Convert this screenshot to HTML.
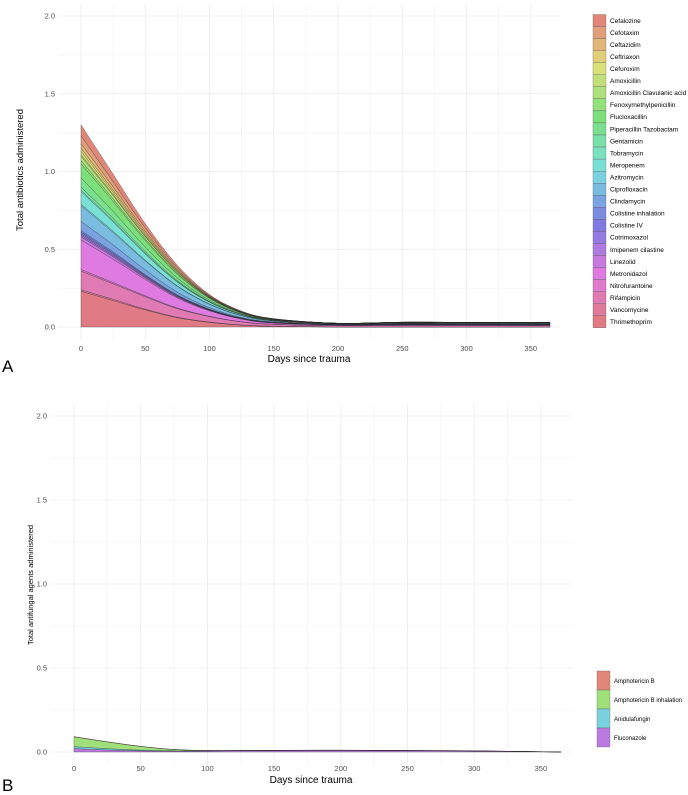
<!DOCTYPE html>
<html><head><meta charset="utf-8"><style>
body{margin:0;background:#fff;}
svg{display:block;font-family:"Liberation Sans",sans-serif;}
</style></head><body>
<svg id="chart" width="688" height="795" viewBox="0 0 688 795" xmlns="http://www.w3.org/2000/svg">
<g id="pa"></g>
<g id="pb"></g>
</svg>
<script>
const days = [0,25,50,75,100,125,150,200,250,300,365];
const xTicks = [0,50,100,150,200,250,300,350];
const yTicks = [0,0.5,1,1.5,2];
const yTickLabels = ["0.0","0.5","1.0","1.5","2.0"];
const abNames = ["Cefalozine","Cefotaxim","Ceftazidim","Ceftriaxon","Cefuroxim","Amoxicillin","Amoxicillin Clavulanic acid","Fenoxymethylpenicillin","Flucloxacillin","Piperacillin Tazobactam","Gentamicin","Tobramycin","Meropenem","Azitromycin","Ciprofloxacin","Clindamycin","Colistine inhalation","Colistine IV","Cotrimoxazol","Imipenem cilastine","Linezolid","Metronidazol","Nitrofurantoine","Rifampicin","Vancomycine","Thrimethoprim"];
const abValues = [
[.07,.048,.028,.014,.006,.002,.001,0,0,0,0],
[.05,.034,.02,.01,.004,.002,.001,0,0,0,0],
[.03,.021,.013,.007,.003,.001,.001,0,0,0,0],
[.02,.014,.009,.005,.002,.001,.001,0,.001,.001,.001],
[.02,.014,.009,.005,.002,.001,0,0,0,0,0],
[.01,.007,.005,.003,.001,.001,0,0,0,0,0],
[.03,.022,.014,.008,.004,.002,.001,0,.001,.001,.001],
[.02,.015,.01,.006,.003,.001,.001,0,0,0,0],
[.09,.065,.042,.024,.012,.005,.002,.001,.002,.002,.002],
[.06,.045,.03,.017,.008,.004,.002,.001,.001,.001,.001],
[.02,.015,.01,.006,.003,.001,.001,0,0,0,0],
[.01,.007,.005,.003,.001,.001,0,0,0,0,0],
[.08,.06,.04,.024,.012,.006,.003,.001,.001,.001,.001],
[.01,.008,.005,.003,.002,.001,.001,0,0,0,0],
[.10,.08,.058,.038,.022,.012,.006,.003,.004,.004,.004],
[.06,.045,.03,.018,.009,.004,.002,.001,.001,.001,.001],
[.01,.008,.005,.003,.002,.001,.001,.001,.001,.001,.001],
[.01,.008,.005,.003,.002,.001,.001,0,0,0,0],
[.01,.008,.006,.004,.002,.001,.001,.001,.002,.002,.002],
[.01,.008,.005,.003,.002,.001,.001,.001,.001,.001,.001],
[.02,.015,.01,.006,.003,.002,.001,.001,.001,.001,.001],
[.19,.15,.105,.065,.035,.017,.008,.004,.004,.004,.004],
[.01,.008,.006,.004,.002,.001,.001,.001,.001,.001,.001],
[.12,.10,.08,.055,.035,.02,.012,.008,.01,.009,.008],
[.01,.008,.005,.003,.002,.001,0,0,0,0,0],
[.23,.17,.11,.06,.03,.012,.005,0,0,0,0]];
const afNames = ["Amphotericin B","Amphotericin B inhalation","Anidulafungin","Fluconazole"];
const afValues = [
[.002,.001,.001,0,0,0,0,0,0,0,0],
[.058,.04,.022,.008,.002,.001,.001,.001,.001,.001,0],
[.012,.008,.004,.002,.001,0,0,0,0,0,0],
[.02,.012,.007,.005,.006,.008,.009,.01,.008,.006,0]];

const NS="http://www.w3.org/2000/svg";
function mk(parent,tag,attrs,text){const e=document.createElementNS(NS,tag);for(const k in attrs)e.setAttribute(k,attrs[k]);if(text!==undefined)e.textContent=text;parent.appendChild(e);return e;}
function hue(i,n){const h=8+360*i/n;return `hsl(${h%360},62%,66%)`;}
function smoothPath(pts){let d=`M${pts[0][0]},${pts[0][1]}`;for(let i=0;i<pts.length-1;i++){const p0=pts[Math.max(0,i-1)],p1=pts[i],p2=pts[i+1],p3=pts[Math.min(pts.length-1,i+2)];const c1=[p1[0]+(p2[0]-p0[0])/6,p1[1]+(p2[1]-p0[1])/6],c2=[p2[0]-(p3[0]-p1[0])/6,p2[1]-(p3[1]-p1[1])/6];d+=` C${c1[0]},${c1[1]} ${c2[0]},${c2[1]} ${p2[0]},${p2[1]}`;}return d;}

function panel(g,cfg){
  const X=v=>cfg.x0+(v)*cfg.xs, Y=v=>cfg.y0-v*cfg.ys;
  for(let v=-25;v<=375;v+=25){const x=X(v);if(x<cfg.left||x>cfg.right)continue;const l=mk(g,'line',{x1:x,x2:x,y1:cfg.top,y2:cfg.bottom,stroke:'#ebebeb','stroke-width':v%50===0?0.8:0.4});}
  for(let v=-0.25;v<=2.1;v+=0.25){const y=Y(v);if(y<cfg.top||y>cfg.bottom)continue;const l=mk(g,'line',{x1:cfg.left,x2:cfg.right,y1:y,y2:y,stroke:'#ebebeb','stroke-width':Math.abs(v*2-Math.round(v*2))<1e-6?0.8:0.4});}
  const n=cfg.names.length; let base=days.map(()=>0);
  for(let k=n-1;k>=0;k--){
    const top=base.map((b,i)=>b+cfg.values[k][i]);
    const up=days.map((d,i)=>[X(d),Y(top[i])]);
    const lo=days.map((d,i)=>[X(d),Y(base[i])]).reverse();
    const d=smoothPath(up)+' L'+smoothPath(lo).slice(1)+' Z';
    const p=mk(g,'path',{d:d,fill:hue(k,cfg.nh),'fill-opacity':0.95,stroke:'#222','stroke-width':0.4,'stroke-opacity':0.7});
    
    
    base=top;
  }
  xTicks.forEach(v=>{const t=mk(g,'text',{x:X(v),y:cfg.xly,'font-size':7.5,fill:'#4d4d4d','text-anchor':'middle'},String(v));});
  yTicks.forEach((v,i)=>{const t=mk(g,'text',{x:cfg.left-3,y:Y(v)+2.5,'font-size':7.5,fill:'#4d4d4d','text-anchor':'end'},yTickLabels[i]);});
  let t=mk(g,'text',{x:(cfg.left+cfg.right)/2,y:cfg.xty,'font-size':10,fill:'#000','text-anchor':'middle'},'Days since trauma');
  
  t=mk(g,'text',{x:0,y:0,'font-size':cfg.ytsize,fill:'#000','text-anchor':'middle',transform:`translate(${cfg.ytx},${cfg.yty}) rotate(-90)`},cfg.ytitle);
  
  t=mk(g,'text',{x:2,y:cfg.lety,'font-size':17,fill:'#000'},cfg.letter);
  
  const lg=mk(g,'g',{});
  cfg.names.forEach((nm,k)=>{const y=cfg.ly+k*cfg.lh;
    const r=mk(lg,'rect',{x:cfg.lx,y:y,width:cfg.lw,height:cfg.lh,fill:hue(k,cfg.nh),'fill-opacity':0.95,stroke:'#555','stroke-width':0.3});
    
    const tx=mk(lg,'text',{x:cfg.lx+cfg.lw+4,y:y+cfg.lh/2+2.3,'font-size':cfg.lfs,fill:'#000'},nm);
    });
}
panel(document.getElementById('pa'),{x0:81,xs:64.25/50,y0:327,ys:155.5,left:58,right:560,top:5,bottom:340,xly:351,xty:362,
  ytitle:'Total antibiotics administered',ytsize:9.5,ytx:23,yty:170,letter:'A',lety:372,names:abNames,values:abValues,nh:26,
  lx:593,ly:14.5,lh:12.05,lw:13,lfs:6.5});
panel(document.getElementById('pb'),{x0:74,xs:66.7/50,y0:752,ys:168,left:50,right:572,top:405,bottom:765,xly:771,xty:783,
  ytitle:'Total antifungal agents administered',ytsize:7.5,ytx:33,yty:585,letter:'B',lety:791,names:afNames,values:afValues,nh:4,
  lx:597,ly:671,lh:19,lw:13,lfs:6});
</script>
</body></html>
